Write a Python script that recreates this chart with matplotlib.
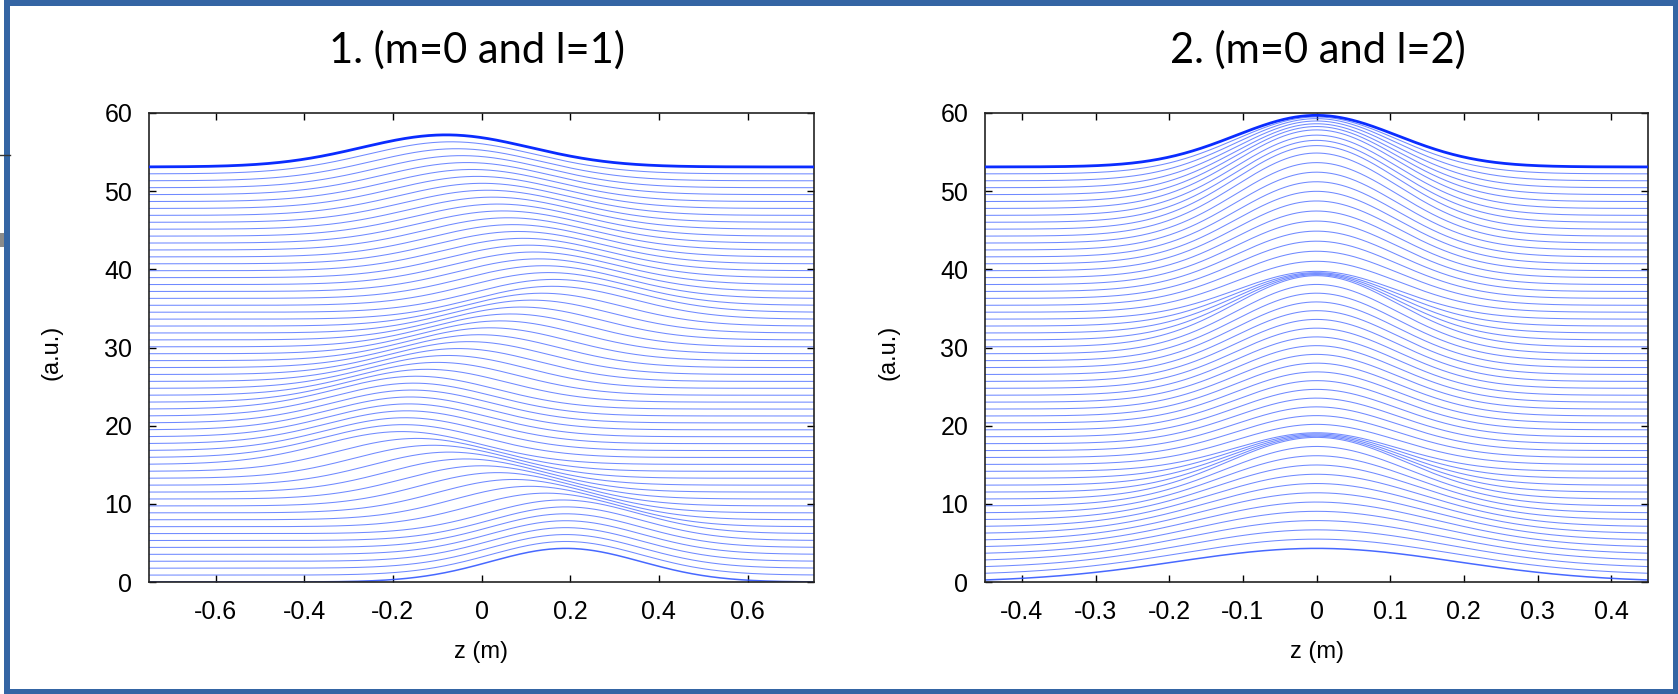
import numpy as np
import matplotlib
matplotlib.use("Agg")
import matplotlib.pyplot as plt
from matplotlib.patches import Rectangle
from matplotlib.lines import Line2D

plt.rcParams["axes.unicode_minus"] = False

# ---- panel 1: m=0, l=1 -------------------------------------------------
p1_title = "1. (m=0 and l=1)"
p1_xlim = (-0.75, 0.75)
p1_xticks = [-0.6, -0.4, -0.2, 0.0, 0.2, 0.4, 0.6]
p1_xticklabels = ["-0.6", "-0.4", "-0.2", "0", "0.2", "0.4", "0.6"]
p1_n_lines = 61
p1_level_top = 53.1
# crest position, height and width of the bump at reference levels
p1_anchor_level = [0.0, 6.0, 15.0, 22.0, 34.0, 44.0, 53.1]
p1_anchor_centre = [0.19, 0.19, -0.18, -0.15, 0.17, 0.04, -0.08]
p1_anchor_amp = [4.3, 4.3, 4.2, 4.2, 4.2, 4.1, 4.1]
p1_anchor_width = [0.17, 0.17, 0.18, 0.18, 0.18, 0.19, 0.19]

# ---- panel 2: m=0, l=2 -------------------------------------------------
p2_title = "2. (m=0 and l=2)"
p2_xlim = (-0.45, 0.45)
p2_xticks = [-0.4, -0.3, -0.2, -0.1, 0.0, 0.1, 0.2, 0.3, 0.4]
p2_xticklabels = ["-0.4", "-0.3", "-0.2", "-0.1", "0", "0.1", "0.2", "0.3", "0.4"]
p2_n_lines = 61
p2_level_top = 53.1
# level far from the bump -> level reached at z=0
p2_anchor_level = [0.0, 10.6, 14.2, 30.1, 33.6, 40.0, 44.7, 48.0, 51.0, 53.1]
p2_anchor_peak = [4.3, 18.5, 19.1, 39.2, 39.7, 49.0, 55.5, 58.0, 59.2, 59.7]
p2_anchor_width = [0.19, 0.12, 0.11, 0.11, 0.11, 0.11, 0.11, 0.11, 0.11, 0.11]

yticks = [0, 10, 20, 30, 40, 50, 60]
ylim = (0, 60)
xlabel = "z (m)"
ylabel = "(a.u.)"

LINE_BLUE = "#3358ff"
EDGE_BLUE = "#0a2cff"
FRAME_BLUE = "#3465a4"

W, H = 1678, 694
fig = plt.figure(figsize=(W / 100, H / 100), dpi=100)
fig.patch.set_facecolor("white")


def fig_rect(x0, y0, x1, y1):
    """pixel box (top-left origin) -> figure fraction [l, b, w, h]"""
    return [x0 / W, 1 - y1 / H, (x1 - x0) / W, (y1 - y0) / H]


def bump(z, c, w):
    return np.exp(-0.5 * ((z - c) / w) ** 2)


def draw_family(ax, z, curves):
    n = len(curves)
    for i, y in enumerate(curves):
        if i == n - 1:
            ax.plot(z, y, color=EDGE_BLUE, lw=2.0, solid_capstyle="butt", zorder=3)
        elif i == 0:
            ax.plot(z, y, color=LINE_BLUE, lw=1.1, alpha=0.9, zorder=2)
        else:
            ax.plot(z, y, color=LINE_BLUE, lw=0.75, alpha=0.7, zorder=2)


def style(ax, xlim, xticks, xticklabels, title, title_x):
    ax.set_xlim(*xlim)
    ax.set_ylim(*ylim)
    ax.set_xticks(xticks)
    ax.set_xticklabels(xticklabels)
    ax.set_yticks(yticks)
    ax.set_yticklabels([str(v) for v in yticks])
    ax.tick_params(direction="in", length=5, width=1.0, top=True, right=True,
                   labelsize=18, colors="black")
    ax.tick_params(axis="x", pad=13)
    ax.tick_params(axis="y", pad=12)
    for s in ax.spines.values():
        s.set_linewidth(1.2)
        s.set_color("#222222")
    ax.set_xlabel(xlabel, fontsize=17, family="Liberation Sans")
    ax.set_ylabel(ylabel, fontsize=17, family="Liberation Sans")
    ax.xaxis.label.set_va("center")
    ax.xaxis.set_label_coords(0.5, -0.149)
    ax.yaxis.label.set_va("center")
    ax.yaxis.set_label_coords(-0.146, 0.49)
    for lab in ax.get_xticklabels() + ax.get_yticklabels():
        lab.set_family("Liberation Sans")
    fig.text(title_x / W, 1 - 50 / H, title, ha="center", va="center",
             fontsize=30, family="Lato")


# panel 1
ax1 = fig.add_axes(fig_rect(149, 113, 814, 582))
lv1 = np.linspace(0.0, p1_level_top, p1_n_lines)
z1 = np.linspace(p1_xlim[0], p1_xlim[1], 700)
amp1 = np.interp(lv1, p1_anchor_level, p1_anchor_amp)
cen1 = np.interp(lv1, p1_anchor_level, p1_anchor_centre)
wid1 = np.interp(lv1, p1_anchor_level, p1_anchor_width)
curves1 = [y0 + a * bump(z1, c, w) for y0, a, c, w in zip(lv1, amp1, cen1, wid1)]
draw_family(ax1, z1, curves1)
style(ax1, p1_xlim, p1_xticks, p1_xticklabels, p1_title, 477)

# panel 2
ax2 = fig.add_axes(fig_rect(985, 113, 1648, 582))
lv2 = np.linspace(0.0, p2_level_top, p2_n_lines)
z2 = np.linspace(p2_xlim[0], p2_xlim[1], 700)
pk2 = np.interp(lv2, p2_anchor_level, p2_anchor_peak)
wd2 = np.interp(lv2, p2_anchor_level, p2_anchor_width)
curves2 = [y0 + (pk - y0) * bump(z2, 0.0, w) for y0, pk, w in zip(lv2, pk2, wd2)]
draw_family(ax2, z2, curves2)
style(ax2, p2_xlim, p2_xticks, p2_xticklabels, p2_title, 1318)

# slide frame
for x0, y0, x1, y1 in [(4, 0, W, 6), (4, 0, 10, H), (1673, 0, W, H), (4, 689, W, H)]:
    fig.patches.append(Rectangle((x0 / W, 1 - y1 / H), (x1 - x0) / W, (y1 - y0) / H,
                                 transform=fig.transFigure, color=FRAME_BLUE, lw=0))
# bits of the neighbouring slide content peeking out at the left edge
fig.lines.append(Line2D([0, 10 / W], [1 - 155 / H] * 2, transform=fig.transFigure,
                        color="#333333", lw=1.0))
fig.patches.append(Rectangle((0, 1 - 247 / H), 4 / W, 14 / H,
                             transform=fig.transFigure, color="#8a8a8a", lw=0))

fig.savefig("out.png", dpi=100)
